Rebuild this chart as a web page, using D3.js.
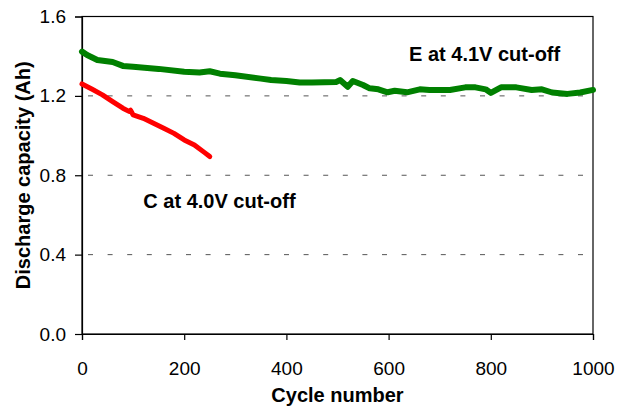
<!DOCTYPE html>
<html>
<head>
<meta charset="utf-8">
<script src="https://cdn.jsdelivr.net/npm/d3@7"></script>
<style>
  body { margin: 0; background: #fff; }
  text { font-family: "Liberation Sans", Arial, sans-serif; fill: #000; }
  .axis text { font-size: 19px; }
  .title { font-size: 20px; font-weight: bold; }
</style>
</head>
<body>
<div id="chart"></div>
<script>
const margin = {'top':16.5,'right':25,'bottom':72,'left':82};
const width = 618 - margin.left - margin.right;
const height = 406 - margin.top - margin.bottom;

// series E, 4.1V cut-off (cycle, Ah)
const cyclesE = [0,10,30,60,80,100,150,200,230,250,270,300,350,370,400,426,450,498,505,520,530,550,563,580,598,612,636,661,680,720,750,770,790,800,820,850,880,900,920,950,975,1000];
const capE    = [1.423,1.406,1.381,1.371,1.351,1.347,1.336,1.322,1.318,1.324,1.312,1.304,1.287,1.280,1.275,1.267,1.267,1.270,1.280,1.246,1.275,1.255,1.238,1.233,1.218,1.226,1.218,1.233,1.230,1.230,1.243,1.243,1.233,1.215,1.243,1.243,1.230,1.233,1.217,1.210,1.217,1.230];
// series C, 4.0V cut-off
const cyclesC = [0,20,40,60,80,92,95,100,120,140,160,180,200,220,240,250];
const capC    = [1.260,1.233,1.205,1.171,1.138,1.122,1.128,1.104,1.087,1.062,1.037,1.011,0.978,0.953,0.914,0.894];

const xTicks = [0,200,400,600,800,1000];
const yTicks = [0,0.4,0.8,1.2,1.6];
const labels = [{'text':'E at 4.1V cut-off','cycle':640,'cap':1.377},
                {'text':'C at 4.0V cut-off','cycle':120,'cap':0.637}];

const svg = d3.select('#chart')
  .append('svg')
  .attr('width', width + margin.left + margin.right)
  .attr('height', height + margin.top + margin.bottom)
  .append('g')
  .attr('transform', `translate(${margin.left},${margin.top})`);

const x = d3.scaleLinear().domain([0,1000]).range([0,width]);
const y = d3.scaleLinear().domain([0,1.6]).range([height,0]);

// dashed gridlines
svg.append('g')
  .selectAll('line')
  .data(yTicks.filter(d => d > 0 && d < 1.6))
  .join('line')
  .attr('x1', 0).attr('x2', width)
  .attr('y1', d => y(d)).attr('y2', d => y(d))
  .attr('stroke', '#555')
  .attr('stroke-width', 1)
  .attr('stroke-dasharray', '5,14.6')
  .attr('stroke-dashoffset', -6);

// plot border
svg.append('rect')
  .attr('width', width).attr('height', height)
  .attr('fill', 'none').attr('stroke', '#000').attr('stroke-width', 1.2);

svg.append('g')
  .attr('class', 'axis')
  .call(d3.axisLeft(y).tickValues(yTicks).tickFormat(d3.format('.1f')).tickSize(7).tickPadding(9))
  .call(g => g.selectAll('path,line').attr('stroke', '#000').attr('stroke-width', 1.2));

svg.append('g')
  .attr('class', 'axis')
  .attr('transform', `translate(0,${height})`)
  .call(d3.axisBottom(x).tickValues(xTicks).tickFormat(d3.format('d')).tickSize(6).tickPadding(22))
  .call(g => g.selectAll('path,line').attr('stroke', '#000').attr('stroke-width', 1.2));

const line = d3.line().x(d => x(d[0])).y(d => y(d[1]));

svg.append('path')
  .datum(cyclesE.map((c,i) => [c, capE[i]]))
  .attr('d', line)
  .attr('fill', 'none')
  .attr('stroke', '#008000')
  .attr('stroke-width', 6)
  .attr('stroke-linejoin', 'round')
  .attr('stroke-linecap', 'round');

svg.append('path')
  .datum(cyclesC.map((c,i) => [c, capC[i]]))
  .attr('d', line)
  .attr('fill', 'none')
  .attr('stroke', '#ff0000')
  .attr('stroke-width', 5)
  .attr('stroke-linejoin', 'round')
  .attr('stroke-linecap', 'round');

svg.selectAll('.note')
  .data(labels)
  .join('text')
  .attr('class', 'title note')
  .attr('x', d => x(d.cycle))
  .attr('y', d => y(d.cap))
  .text(d => d.text);

svg.append('text')
  .attr('class', 'title')
  .attr('text-anchor', 'middle')
  .attr('x', width / 2)
  .attr('y', height + 68)
  .text('Cycle number');

svg.append('text')
  .attr('class', 'title')
  .attr('text-anchor', 'middle')
  .attr('transform', `translate(${-52},${height / 2}) rotate(-90)`)
  .text('Discharge capacity (Ah)');
</script>
</body>
</html>
